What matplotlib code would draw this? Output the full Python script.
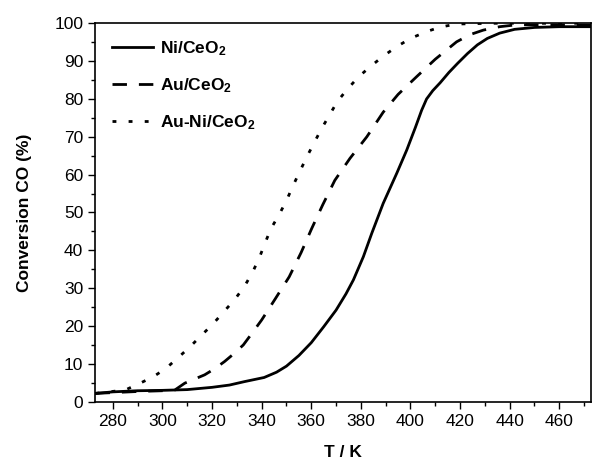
import matplotlib
matplotlib.use("Agg")
import matplotlib.pyplot as plt
from matplotlib.ticker import MultipleLocator

plt.rcParams['font.family'] = ['Liberation Sans', 'DejaVu Sans']
plt.rcParams['mathtext.fontset'] = 'custom'
plt.rcParams['mathtext.rm'] = 'Liberation Sans:bold'
plt.rcParams['mathtext.it'] = 'Liberation Sans:bold'
plt.rcParams['mathtext.bf'] = 'Liberation Sans:bold'

# light-off curves, temperature in K, CO conversion in %
t_ni = [273, 280, 290, 300, 310, 320, 327, 333, 341, 346, 350, 355, 360, 365,
        370, 374, 377, 381, 384.4, 389, 394.5, 398.5, 402, 404.5, 406.5, 409,
        412, 415.5, 419, 423, 427, 431, 436, 442, 450, 460, 473]
c_ni = [2.2, 2.6, 2.9, 3.0, 3.2, 3.8, 4.4, 5.3, 6.4, 7.8, 9.4, 12.2, 15.6, 19.8,
        24.2, 28.5, 32.2, 38.3, 44.5, 52.4, 60.4, 66.5, 72.5, 77.0, 80.0, 82.2,
        84.3, 87.0, 89.4, 92.0, 94.3, 96.0, 97.4, 98.4, 98.9, 99.1, 99.1]

t_au = [273, 290, 300, 305, 309, 313, 317, 321, 325, 329, 332.6, 336, 340,
        345.4, 351.1, 355.9, 360.2, 364.6, 369.5, 375.6, 382.4, 389, 395,
        402.5, 410, 418.6, 424, 429.4, 436, 442.8, 455, 473]
c_au = [2.2, 2.7, 2.9, 3.1, 4.9, 6.0, 7.1, 8.7, 10.6, 12.8, 15.0, 18.0, 21.6,
        27.1, 33.0, 39.4, 45.8, 52.0, 58.5, 64.3, 70.0, 76.5, 81.2,
        85.9, 90.5, 95.1, 97.0, 98.2, 99.1, 99.6, 99.6, 99.5]

t_auni = [273, 285, 291, 296.3, 301.4, 306.4, 311.1, 315.8, 320.3, 324.5, 329,
          333, 336.4, 339.1, 341.4, 343.8, 347.1, 350.1, 352.8, 355.5, 358.2,
          364.1, 370.5, 374.3, 379, 383.7, 389, 394.4, 400, 406.5, 412, 418.6,
          432, 473]
c_auni = [2.2, 3.1, 4.9, 6.6, 8.8, 11.7, 14.5, 17.6, 20.5, 23.6, 26.9,
          30.4, 34.3, 38.1, 42.0, 45.8, 49.5, 53.3, 57.3, 61.0, 64.7,
          72.1, 79.3, 82.4, 85.8, 88.5, 91.3, 93.8, 96.0, 97.8, 99.0, 99.8,
          100.0, 100.0]

fig = plt.figure(figsize=(5.92, 4.62), dpi=100)
ax = fig.add_axes([0.1605, 0.1305, 0.8378, 0.8191])

ax.plot(t_ni, c_ni, color='black', lw=2.0, label='Ni/CeO$_2$')
ax.plot(t_au, c_au, color='black', lw=2.0, dashes=(5.2, 4.3), label='Au/CeO$_2$')
ax.plot(t_auni, c_auni, color='black', lw=2.0, dashes=(1.4, 4.4),
        label='Au-Ni/CeO$_2$')

ax.set_xlim(272.8, 472.8)
ax.set_ylim(0, 100)
ax.xaxis.set_major_locator(MultipleLocator(20))
ax.xaxis.set_minor_locator(MultipleLocator(10))
ax.yaxis.set_major_locator(MultipleLocator(10))
ax.yaxis.set_minor_locator(MultipleLocator(5))
ax.tick_params(which='both', direction='out', top=False, right=False,
               labelsize=12.5, width=1.0)
ax.tick_params(which='major', length=5, pad=3.5)
ax.tick_params(which='minor', length=3)
for s in ax.spines.values():
    s.set_linewidth(1.2)

ax.set_xlabel('T / K', fontsize=12.5, fontweight='bold', labelpad=12)
ax.set_ylabel('Conversion CO (%)', fontsize=12.5, fontweight='bold', labelpad=16)

leg = ax.legend(loc='upper left', frameon=False, fontsize=12.5,
                handlelength=2.35, handletextpad=0.4, labelspacing=1.05,
                borderaxespad=0, borderpad=0, bbox_to_anchor=(0.034, 0.957))
for txt in leg.get_texts():
    txt.set_fontweight('bold')

fig.savefig('out.png', dpi=100)
